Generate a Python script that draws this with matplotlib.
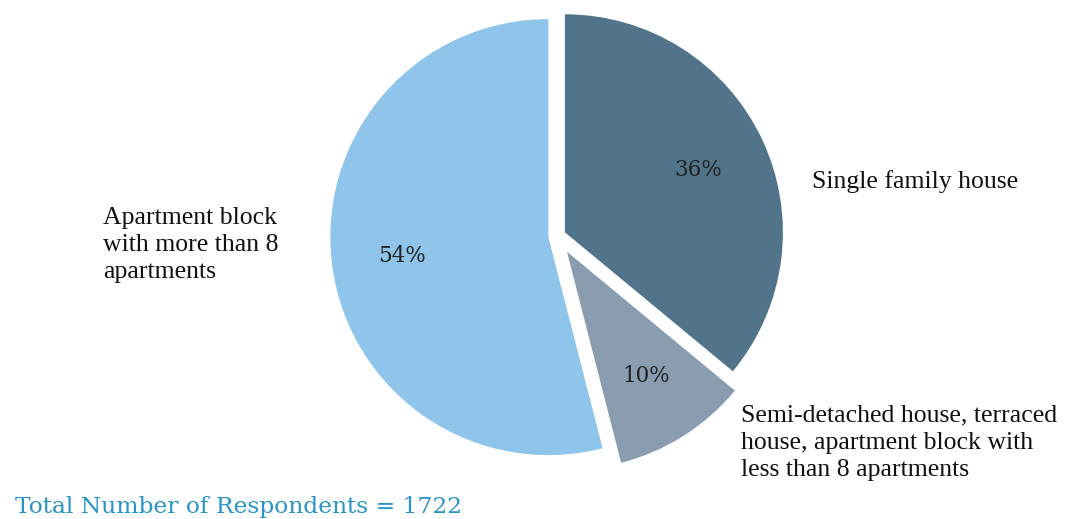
import matplotlib.pyplot as plt

# dwelling types of the respondents
categories = ["Single family house",
              "Semi-detached house, terraced\nhouse, apartment block with\nless than 8 apartments",
              "Apartment block\nwith more than 8\napartments"]
shares = [36, 10, 54]
colors = ["#52748a", "#8a9db0", "#8fc5ea"]
explode = [0.04, 0.085, 0.04]
respondents = 1722

W, H = 1067, 519
R = 218.0          # pie radius in pixels
cx, cy = 557, 236  # pie centre in pixels

fig = plt.figure(figsize=(W / 100, H / 100), dpi=100)
ax = fig.add_axes([0, 0, 1, 1])

wedges, _, pcts = ax.pie(shares, colors=colors, explode=explode, startangle=90,
                         counterclock=False, autopct="%d%%", pctdistance=0.675,
                         radius=1.0, center=(0, 0), frame=True,
                         textprops=dict(family="DejaVu Serif", fontsize=15.5, color="#222222"))
ax.set_xlim(-cx / R, (W - cx) / R)
ax.set_ylim(-(H - cy) / R, cy / R)
ax.set_aspect("equal")
ax.axis("off")


def px(x, y):
    return ((x - cx) / R, (cy - y) / R)


label_pos = [(812, 182), (741, 443), (103, 245)]
for text, (x, y) in zip(categories, label_pos):
    ax.text(*px(x, y), text, ha="left", va="center", fontsize=18.5,
            family="Liberation Serif", color="#111111", linespacing=1.3)

ax.text(*px(15, 507), f"Total Number of Respondents = {respondents}",
        ha="left", va="center", fontsize=16.8, family="DejaVu Serif", color="#2a94c8")

fig.savefig("out.png", dpi=100)
